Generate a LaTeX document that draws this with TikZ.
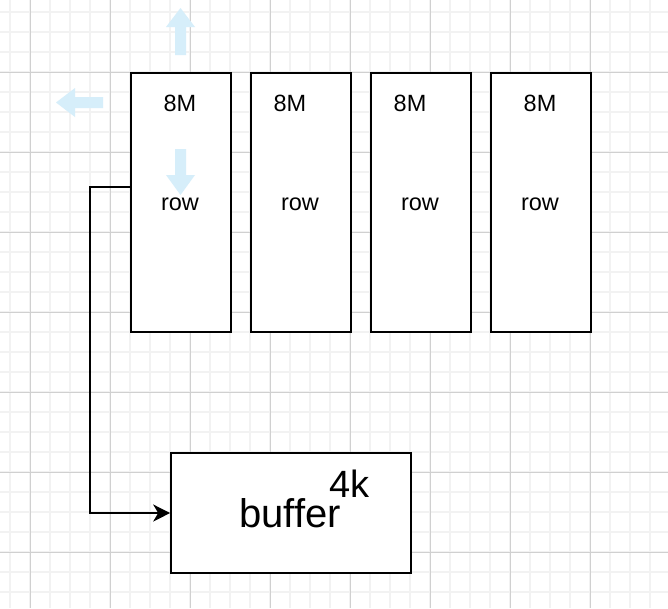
\documentclass[tikz,border=0pt]{standalone}
\usepackage{fontspec}
\setmainfont{Liberation Sans}
\usetikzlibrary{arrows.meta}
\definecolor{gridminor}{RGB}{242,242,242}
\definecolor{gridmajor}{RGB}{208,208,208}
\definecolor{hintblue}{RGB}{214,238,250}
\tikzset{
  x=1pt, y=-1pt,
  membox/.style={draw=black, line width=1.6pt, fill=white, minimum width=100pt, minimum height=259pt, inner sep=0pt},
  bufbox/.style={draw=black, line width=1.6pt, fill=white, minimum width=240pt, minimum height=120pt, inner sep=0pt},
  small/.style={font=\fontsize{23.5}{27}\selectfont, inner sep=0pt, anchor=base},
  big/.style={font=\fontsize{40}{46}\selectfont, inner sep=0pt, anchor=base},
  mid/.style={font=\fontsize{38}{44}\selectfont, inner sep=0pt, anchor=base},
  conn/.style={draw=black, line width=1.6pt, -{Stealth[length=17pt,width=17pt,inset=5pt]}},
  hint/.style={fill=hintblue, draw=none}
}
\begin{document}
\begin{tikzpicture}
\useasboundingbox (0,0) rectangle (668,608);
\fill[white] (0,0) rectangle (668,608);
% grid
\foreach \gx in {10,30,...,670} \draw[gridminor, line width=1.5pt] (\gx,0) -- (\gx,608);
\foreach \gy in {12,32,...,608} \draw[gridminor, line width=1.5pt] (0,\gy) -- (668,\gy);
\foreach \gx in {30,110,...,670} \draw[gridmajor, line width=1pt] (\gx,0) -- (\gx,608);
\foreach \gy in {72,152,...,608} \draw[gridmajor, line width=1pt] (0,\gy) -- (668,\gy);

% memory columns
\node[membox] (b1) at (181,202.5) {};
\node[membox] (b2) at (301,202.5) {};
\node[membox] (b3) at (421,202.5) {};
\node[membox] (b4) at (541,202.5) {};

\node[small] (m1) at (180,111) {8M};
\node[small] (m2) at (290,111) {8M};
\node[small] (m3) at (410,111) {8M};
\node[small] (m4) at (540,111) {8M};

\node[small] (r1) at (180,210) {row};
\node[small] (r2) at (300,210) {row};
\node[small] (r3) at (420,210) {row};
\node[small] (r4) at (540,210) {row};

% buffer
\node[bufbox] (buf) at (291,513) {};
\node[big] (bt) at (290,527) {buffer};
\node[mid] (kt) at (349.5,497) {4k};

% connector
\draw[conn] ([yshift=15.5pt]b1.west) -- ++(-40,0) |- (buf.west);

% hint arrows
\fill[hint] (175,55) -- (175,27) -- (166,27) -- (180.5,8) -- (195,27) -- (186,27) -- (186,55) -- cycle;
\fill[hint] (103,97) -- (75,97) -- (75,88) -- (56,102.5) -- (75,117) -- (75,108) -- (103,108) -- cycle;
\fill[hint] (175,149) -- (175,175) -- (166,175) -- (180.5,195) -- (195,175) -- (186,175) -- (186,149) -- cycle;
\end{tikzpicture}
\end{document}
